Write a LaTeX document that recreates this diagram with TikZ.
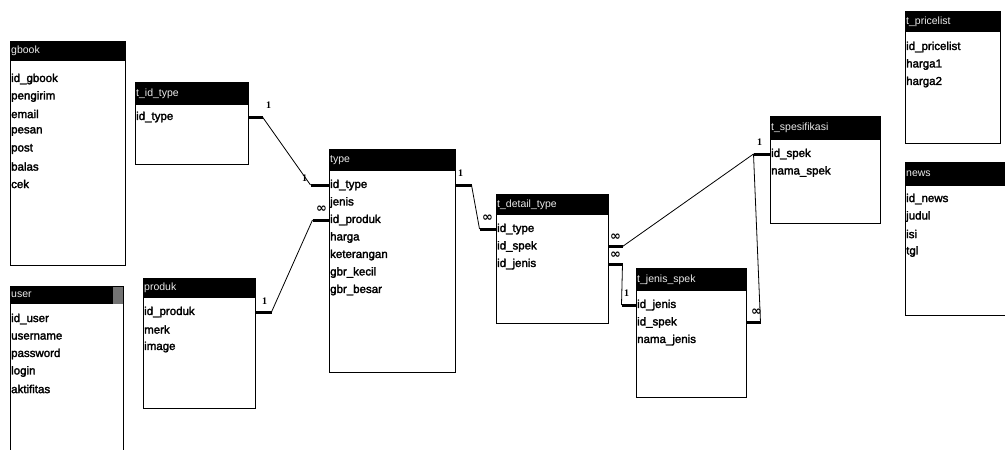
\documentclass[tikz,border=0pt]{standalone}
\usepackage{fontspec}
\setmainfont{Liberation Sans}
\newfontfamily\fldfont{Liberation Sans}[FakeBold=2.2]
\newfontfamily\symfont{DejaVu Sans}
\newfontfamily\numfont{Liberation Serif}
\usetikzlibrary{fit,calc}
\tikzset{
  tblbox/.style={draw=black, line width=1pt},
  hdrfill/.style={fill=black},
  hdrtxt/.style={text=black!8, font=\fontsize{10.5}{11}\selectfont, inner sep=0pt, anchor=west},
  fld/.style={font=\fldfont\fontsize{11.5}{12}\selectfont, inner sep=0pt, anchor=west},
  rel/.style={line width=0.8pt},
  stub/.style={line width=3pt},
  one/.style={font=\numfont\bfseries\fontsize{10}{10}\selectfont, inner sep=0pt},
  many/.style={font=\symfont\bfseries\fontsize{13}{13}\selectfont, inner sep=0pt},
}
\newcommand\ertable[9]{%
  \coordinate (#1-nw) at (#2,#3);
  \coordinate (#1-se) at (#4,#5);
  \fill[hdrfill] (#2,#3) rectangle (#4,#6);
  \node[fit=(#1-nw)(#1-se), inner sep=0pt, tblbox] (#1) {};
  \node[hdrtxt] (#1-title) at (#2+1,{(#3+#6)/2}) {#7};
  \foreach \f [count=\i from 0] in {#9} {\node[fld] (#1-\i) at (#2+1,{#8+17.5*\i}) {\f};}
}
\begin{document}
\begin{tikzpicture}[x=1pt,y=-1pt]
\useasboundingbox (0,0) rectangle (1005,450);
\fill[white] (0,0) rectangle (1005,450);
\clip (0,0) rectangle (1005,450);

\ertable{gb}{10}{41}{125}{265}{61}{gbook}{79}{id\_gbook,pengirim,email,pesan,post,balas,cek}
\ertable{us}{10}{286}{123}{460}{304}{user}{319}{id\_user,username,password,login,aktifitas}
\fill[black!55] (113,286.5) rectangle (122.5,303.5);
\ertable{tid}{135}{82}{248}{164}{105}{t\_id\_type}{117}{id\_type}
\ertable{pr}{143}{278}{255}{408}{298}{produk}{312}{id\_produk,merk,image}
\ertable{tp}{329}{149}{455}{372}{171}{type}{185}{id\_type,jenis,id\_produk,harga,keterangan,gbr\_kecil,gbr\_besar}
\ertable{dt}{496}{194}{608}{323}{215}{t\_detail\_type}{229}{id\_type,id\_spek,id\_jenis}
\ertable{js}{636}{268}{746}{397}{291}{t\_jenis\_spek}{305}{id\_jenis,id\_spek,nama\_jenis}
\ertable{sp}{770}{116}{880}{223}{140}{t\_spesifikasi}{154}{id\_spek,nama\_spek}
\ertable{pl}{905}{11}{1000}{143}{32}{t\_pricelist}{47}{id\_pricelist,harga1,harga2}
\ertable{nw}{905}{162}{1012}{315}{186}{news}{199}{id\_news,judul,isi,tgl}

% r1: t_id_type -> type
\draw[stub] (tid.east |- tid-0) -- ++(14,0) coordinate (r1a);
\coordinate (r1b) at ($(tp.west |- tp-0)+(-18,0)$);
\draw[rel] (r1a) -- (r1b);
\draw[stub] (r1b) -- (tp.west |- tp-0);
\node[one] (r1x) at ($(r1a)+(6,-12)$) {1};
\node[one] (r1y) at ($(r1b)+(-6,-7)$) {1};

% r2: produk -> type
\draw[stub] (pr.east |- pr-0) -- ++(16,0) coordinate (r2a);
\coordinate (r2b) at ($(tp.west |- tp-2)+(-16,0)$);
\draw[rel] (r2a) -- (r2b);
\draw[stub] (r2b) -- (tp.west |- tp-2);
\node[one] (r2x) at ($(r2a)+(-7,-11)$) {1};
\node[many] (r2y) at ($(r2b)+(9,-11)$) {∞};

% r3: type -> t_detail_type
\draw[stub] (tp.east |- tp-0) -- ++(16,0) coordinate (r3a);
\coordinate (r3b) at ($(dt.west |- dt-0)+(-16,0)$);
\draw[rel] (r3a) -- (r3b);
\draw[stub] (r3b) -- (dt.west |- dt-0);
\node[one] (r3x) at ($(r3a)+(-11,-12)$) {1};
\node[many] (r3y) at ($(r3b)+(8,-11)$) {∞};

% r4: t_detail_type -> t_spesifikasi
\draw[stub] (dt.east |- dt-1) -- ++(14,0) coordinate (r4a);
\coordinate (r4b) at ($(sp.west |- sp-0)+(-16,0)$);
\draw[rel] (r4a) -- (r4b);
\draw[stub] (r4b) -- (sp.west |- sp-0);
\node[many] (r4x) at ($(r4a)+(-7,-9)$) {∞};
\node[one] (r4y) at ($(r4b)+(6,-12)$) {1};

% r5: t_detail_type -> t_jenis_spek
\draw[stub] (dt.east |- dt-2) -- ++(14,0) coordinate (r5a);
\coordinate (r5b) at ($(js.west |- js-0)+(-14,0)$);
\draw[rel] (r5a) -- (r5b);
\draw[stub] (r5b) -- (js.west |- js-0);
\node[many] (r5x) at ($(r5a)+(-7,-9)$) {∞};
\node[one] (r5y) at ($(r5b)+(5,-12)$) {1};

% r6: t_jenis_spek -> t_spesifikasi
\draw[stub] (js.east |- js-1) -- ++(14,0) coordinate (r6a);
\draw[rel] (r6a) -- (r4b);
\node[many] (r6x) at ($(r6a)+(-4,-10)$) {∞};
\end{tikzpicture}
\end{document}
